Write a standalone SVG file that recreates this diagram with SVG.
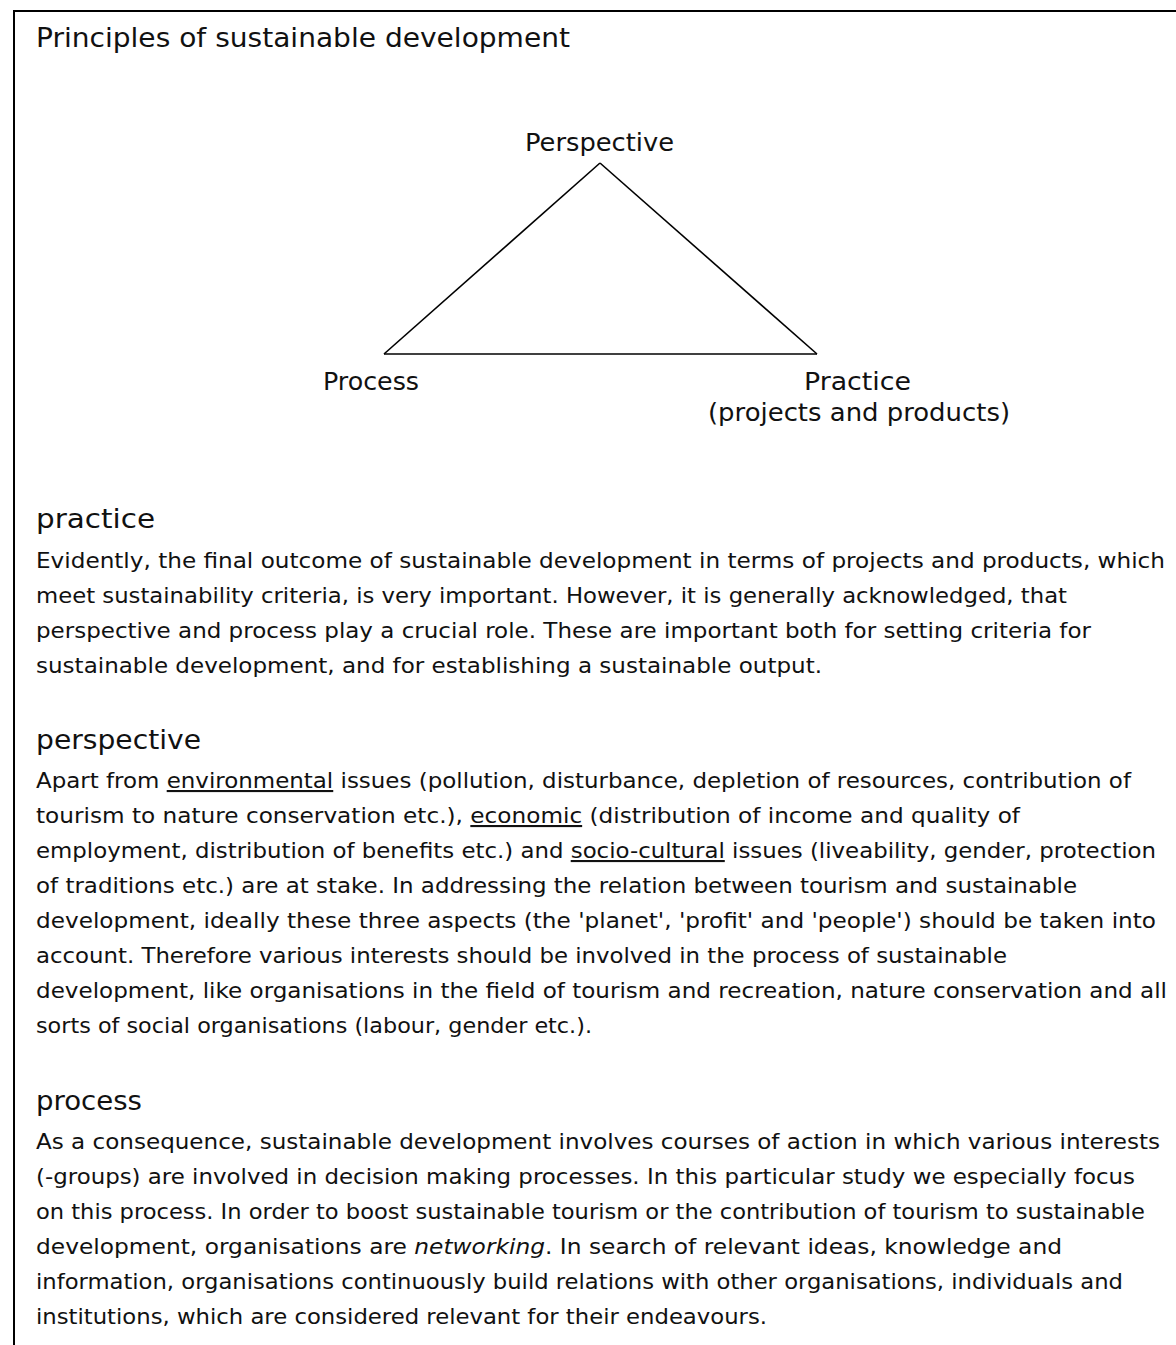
<svg xmlns="http://www.w3.org/2000/svg" width="1176" height="1345" viewBox="0 0 1176 1345">
<style>
text{font-family:"DejaVu Sans","Liberation Sans",sans-serif;fill:#111}
.body{font-size:21px}
.head{font-size:26px}
.lab{font-size:24px}
.u{text-decoration:underline}
.edge{stroke:#000;stroke-width:1.6;fill:none}
.frame{stroke:#000;stroke-width:2;fill:none}
</style>
<rect width="1176" height="1345" fill="#fff"/>
<path class="frame" d="M14,1345 V11 H1176"/>
<g id="title"><text class="head" x="36" y="47" textLength="534" lengthAdjust="spacingAndGlyphs">Principles of sustainable development</text></g>
<g id="connectors">
<line class="edge" x1="600" y1="163" x2="384" y2="354"/>
<line class="edge" x1="600" y1="163" x2="817" y2="354"/>
<line class="edge" x1="384" y1="354" x2="817" y2="354"/>
</g>
<g id="node-perspective"><text class="lab" x="525" y="151" textLength="149" lengthAdjust="spacingAndGlyphs">Perspective</text></g>
<g id="node-process"><text class="lab" x="323" y="390" textLength="96" lengthAdjust="spacingAndGlyphs">Process</text></g>
<g id="node-practice">
<text class="lab" x="804" y="390" textLength="107" lengthAdjust="spacingAndGlyphs">Practice</text>
<text class="lab" x="708" y="421" textLength="302" lengthAdjust="spacingAndGlyphs">(projects and products)</text>
</g>
<g id="section-practice">
<text class="head" x="36" y="528" textLength="119" lengthAdjust="spacingAndGlyphs">practice</text>
<text class="body" x="36" y="568" textLength="1129" lengthAdjust="spacingAndGlyphs">Evidently, the final outcome of sustainable development in terms of projects and products, which</text>
<text class="body" x="36" y="603" textLength="1031" lengthAdjust="spacingAndGlyphs">meet sustainability criteria, is very important. However, it is generally acknowledged, that</text>
<text class="body" x="36" y="638" textLength="1055" lengthAdjust="spacingAndGlyphs">perspective and process play a crucial role. These are important both for setting criteria for</text>
<text class="body" x="36" y="673" textLength="786" lengthAdjust="spacingAndGlyphs">sustainable development, and for establishing a sustainable output.</text>
</g>
<g id="section-perspective">
<text class="head" x="36" y="749" textLength="165" lengthAdjust="spacingAndGlyphs">perspective</text>
<text class="body" x="36" y="788" textLength="1095" lengthAdjust="spacingAndGlyphs">Apart from <tspan class="u">environmental</tspan> issues (pollution, disturbance, depletion of resources, contribution of</text>
<text class="body" x="36" y="823" textLength="984" lengthAdjust="spacingAndGlyphs">tourism to nature conservation etc.), <tspan class="u">economic</tspan> (distribution of income and quality of</text>
<text class="body" x="36" y="858" textLength="1120" lengthAdjust="spacingAndGlyphs">employment, distribution of benefits etc.) and <tspan class="u">socio-cultural</tspan> issues (liveability, gender, protection</text>
<text class="body" x="36" y="893" textLength="1041" lengthAdjust="spacingAndGlyphs">of traditions etc.) are at stake. In addressing the relation between tourism and sustainable</text>
<text class="body" x="36" y="928" textLength="1120" lengthAdjust="spacingAndGlyphs">development, ideally these three aspects (the 'planet', 'profit' and 'people') should be taken into</text>
<text class="body" x="36" y="963" textLength="971" lengthAdjust="spacingAndGlyphs">account. Therefore various interests should be involved in the process of sustainable</text>
<text class="body" x="36" y="998" textLength="1131" lengthAdjust="spacingAndGlyphs">development, like organisations in the field of tourism and recreation, nature conservation and all</text>
<text class="body" x="36" y="1033" textLength="556" lengthAdjust="spacingAndGlyphs">sorts of social organisations (labour, gender etc.).</text>
</g>
<g id="section-process">
<text class="head" x="36" y="1110" textLength="106" lengthAdjust="spacingAndGlyphs">process</text>
<text class="body" x="36" y="1149" textLength="1124" lengthAdjust="spacingAndGlyphs">As a consequence, sustainable development involves courses of action in which various interests</text>
<text class="body" x="36" y="1184" textLength="1099" lengthAdjust="spacingAndGlyphs">(-groups) are involved in decision making processes. In this particular study we especially focus</text>
<text class="body" x="36" y="1219" textLength="1109" lengthAdjust="spacingAndGlyphs">on this process. In order to boost sustainable tourism or the contribution of tourism to sustainable</text>
<text class="body" x="36" y="1254" textLength="1026" lengthAdjust="spacingAndGlyphs">development, organisations are <tspan font-style="italic">networking</tspan>. In search of relevant ideas, knowledge and</text>
<text class="body" x="36" y="1289" textLength="1087" lengthAdjust="spacingAndGlyphs">information, organisations continuously build relations with other organisations, individuals and</text>
<text class="body" x="36" y="1324" textLength="731" lengthAdjust="spacingAndGlyphs">institutions, which are considered relevant for their endeavours.</text>
</g>
</svg>
